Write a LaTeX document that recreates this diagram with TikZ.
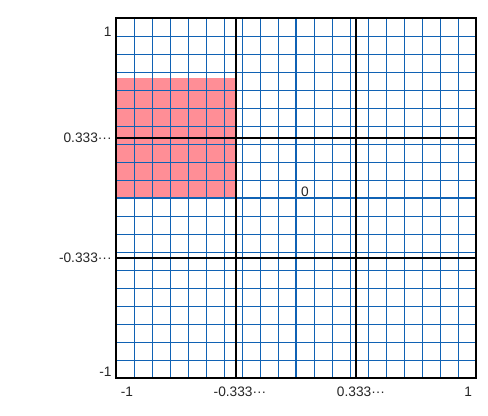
\documentclass[tikz,border=0pt]{standalone}
\usepackage{fontspec}
\setmainfont{Liberation Sans}
\definecolor{gridblue}{RGB}{16, 98, 180}
\definecolor{softred}{RGB}{255, 142, 150}
\usepackage{tikz}
\usetikzlibrary{positioning}

\begin{document}
\begin{tikzpicture}[x=3cm, y=3cm, font=\fontsize{6.5}{8}\selectfont,
    finegrid/.style={gridblue, line width=0.45pt},
    axisline/.style={gridblue, line width=1.1pt},
    thirdline/.style={black, line width=1.1pt},
    ticklabel/.style={inner sep=0pt, text=black!85}]
  \useasboundingbox (-1.6444, -1.2056) rectangle (1.0667, 1.1);

  % shaded region
  \fill[softred] (-1, 0) rectangle (-1/3, 2/3);

  % fine grid every 0.1
  \foreach \i in {-9,...,9} {
    \draw[finegrid] (\i/10, -1) -- (\i/10, 1);
    \draw[finegrid] (-1, \i/10) -- (1, \i/10);
  }
  \draw[axisline] (0, -1) -- (0, 1);
  \draw[axisline] (-1, 0) -- (1, 0);

  % lines at +-1/3
  \foreach \t in {-1/3, 1/3} {
    \draw[thirdline] (\t, -1) -- (\t, 1);
    \draw[thirdline] (-1, \t) -- (1, \t);
  }
  \draw[black, line width=1.4pt] (-1, -1) rectangle (1, 1);

  % labels
  \node[ticklabel, anchor=east] (ytop) at (-1.022, 0.922) {1};
  \node[ticklabel, anchor=east] (ythird) at (-1.022, 1/3) {0.333···};
  \node[ticklabel, anchor=east] (ymthird) at (-1.022, -1/3) {-0.333···};
  \node[ticklabel, anchor=east] (ybot) at (-1.022, -0.967) {-1};

  \node[ticklabel] (xleft) at (-0.939, -1.078) {-1};
  \node[ticklabel] (xmthird) at (-0.311, -1.078) {-0.333···};
  \node[ticklabel] (xthird) at (0.361, -1.078) {0.333···};
  \node[ticklabel] (xright) at (0.956, -1.078) {1};

  \node[ticklabel] (origin) at (0.05, 0.033) {0};
\end{tikzpicture}
\end{document}
